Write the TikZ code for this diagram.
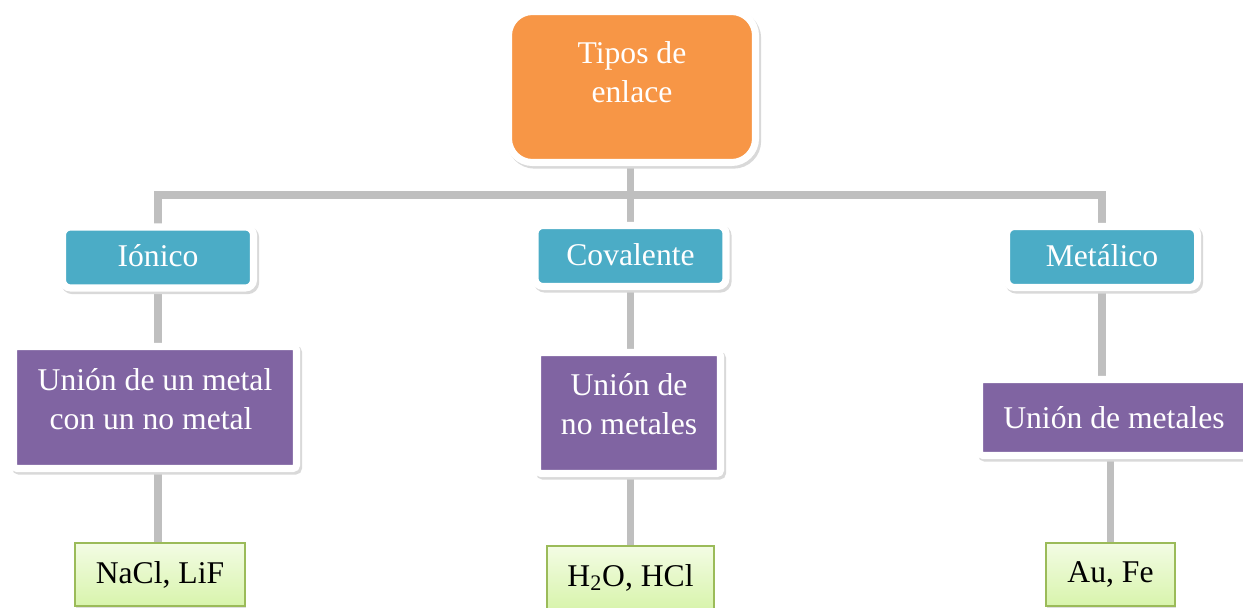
\documentclass[tikz,border=0pt]{standalone}
\usepackage{fontspec}
\setmainfont{Liberation Serif}
\usepackage{xcolor}
\usepackage{tikz}
\usetikzlibrary{shapes, positioning, backgrounds, shadows}
\definecolor{naranja}{HTML}{F79646}
\definecolor{turquesa}{HTML}{4BACC6}
\definecolor{morado}{HTML}{8064A2}
\definecolor{verdeborde}{HTML}{9BBB59}
\definecolor{verdeclaro}{HTML}{F3FCE4}
\definecolor{verdemedio}{HTML}{D8F4AC}
\definecolor{gris}{HTML}{BFBFBF}
\tikzset{
	% caja con borde blanco
	caja/.style={
		draw=white,
		line width=4pt,
		text=white,
		align=center,
		inner sep=2pt,
		font=\fontsize{18}{22}\selectfont,
		preaction={draw=black!15, line width=4pt, transform canvas={shift={(1.2pt,-1.5pt)}}}
	}, %
	% titulo
	titulo/.style={
		caja,
		fill=naranja,
		rounded corners=0.48cm,
		minimum width=4.94cm,
		minimum height=3.02cm,
		text depth=17pt
	}, %
	% tipos de enlace
	tipo/.style={
		caja,
		fill=turquesa,
		rounded corners=0.16cm,
		minimum width=3.82cm,
		minimum height=1.22cm,
		text depth=2pt
	}, %
	% descripcion
	union/.style={
		caja,
		fill=morado,
		rounded corners=2pt
	}, %
	% ejemplos
	ejemplo/.style={
		draw=verdeborde,
		line width=1pt,
		top color=verdeclaro,
		bottom color=verdemedio,
		minimum height=1.26cm,
		font=\fontsize{18}{22}\selectfont,
		drop shadow={shadow xshift=0.8pt, shadow yshift=-1pt, opacity=0.25}
	}, %
	% lineas
	conector/.style={
		draw=gris,
		line width=4.5pt,
		line cap=round
	} %
}

\begin{document}
\begin{tikzpicture}
			\useasboundingbox (0,0) rectangle (24.86,-12.16);
			
			% titulo
			\node[titulo] (tipos) at (12.64,-1.74) {Tipos de\\enlace};
			
			% tipos
			\node[tipo] (ionico) at (3.16,-5.15) {Iónico};
			\node[tipo] (covalente) at (12.61,-5.12) {Covalente};
			\node[tipo] (metalico) at (22.04,-5.14) {Metálico};
			
			% uniones
			\node[union, minimum width=5.66cm, minimum height=2.44cm, text depth=10pt] (union1) at (3.10,-8.15) {Unión de un metal\\con un no metal~~};
			\node[union, minimum width=3.66cm, minimum height=2.42cm, text depth=10pt] (union2) at (12.58,-8.26) {Unión de\\no metales};
			\node[union, minimum width=5.38cm, minimum height=1.52cm] (union3) at (22.28,-8.35) {Unión de metales};
			
			% ejemplos
			\node[ejemplo, minimum width=3.4cm] (nacl) at (3.2,-11.49) {NaCl, LiF};
			\node[ejemplo, minimum width=3.34cm] (agua) at (12.61,-11.55) {H\textsubscript{2}O, HCl};
			\node[ejemplo, minimum width=2.58cm] (aufe) at (22.21,-11.49) {Au, Fe};
			
			% conectores
			\begin{scope}[on background layer]
				\coordinate (barra) at (12.62,-3.9);
				\draw[conector] (tipos.south -| covalente) -- (covalente.north);
				\draw[conector] (ionico.north) |- (barra) -| (metalico.north);
				% ionico
				\draw[conector] (ionico.south) -- (ionico.south |- union1.north);
				\draw[conector] (ionico.south |- union1.south) -- (ionico.south |- nacl.north);
				% covalente
				\draw[conector] (covalente.south) -- (covalente.south |- union2.north);
				\draw[conector] (covalente.south |- union2.south) -- (agua.north);
				% metalico
				\draw[conector] (metalico.south) -- (metalico.south |- union3.north);
				\draw[conector] (aufe.north |- union3.south) -- (aufe.north);
			\end{scope}
		\end{tikzpicture}
\end{document}
